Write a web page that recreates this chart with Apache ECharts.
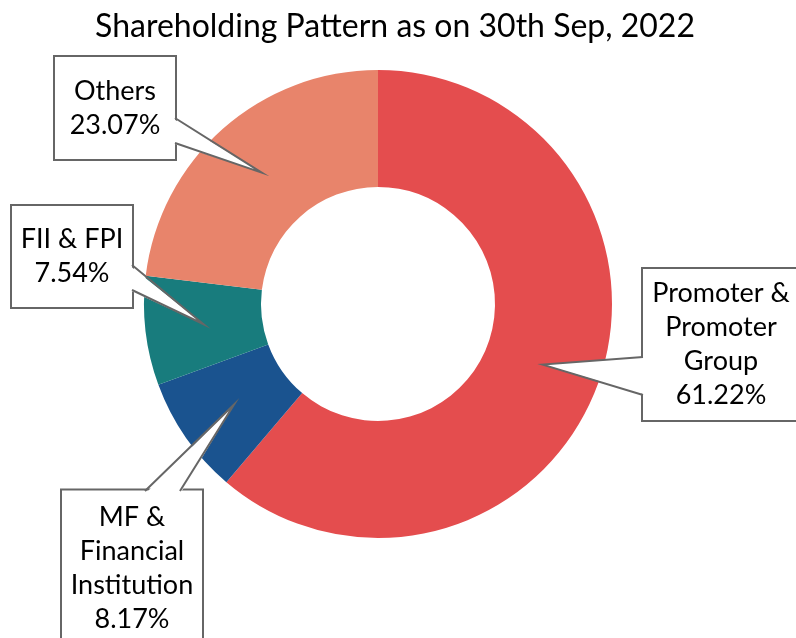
<!DOCTYPE html>
<html>
<head>
<meta charset="utf-8">
<script src="https://cdn.jsdelivr.net/npm/echarts@6/dist/echarts.min.js"></script>
<style>
  html, body { margin: 0; padding: 0; background: #fff; }
  #main { width: 796px; height: 638px; }
</style>
</head>
<body>
<div id="main"></div>
<script>
// data
const categories = ['Promoter &\nPromoter\nGroup', 'MF &\nFinancial\nInstitution', 'FII & FPI', 'Others'];
const shares = [61.22, 8.17, 7.54, 23.07];
const colors = ['#E44D4E', '#1A538F', '#187C7D', '#E8846B'];

// donut geometry
const center = [378, 304];
const radius = [117, 234];

// callout boxes: box centre, content width, vertical padding, base of the pointer, side facing the slice
const callouts = [
  { box: [721, 344.5], width: 156, pad: 7.5, base: [[643, 357], [643, 395]], side: 'left' },
  { box: [132, 568], width: 140, pad: 9.5, base: [[145, 491], [180, 491]], side: 'top' },
  { box: [72, 256.5], width: 120, pad: 16.5, base: [[132, 265], [132, 290]], side: 'right' },
  { box: [115, 108], width: 120, pad: 17, base: [[175, 118], [175, 143]], side: 'right' }
];

const total = shares.reduce((a, b) => a + b, 0);
const midR = (radius[0] + radius[1]) / 2;

// pointer tips sit at the middle of each slice
let cum = 0;
const wedges = [];
shares.forEach(function (v, i) {
  const frac = (cum + v / 2) / total;
  cum += v;
  const ang = Math.PI / 2 - frac * 2 * Math.PI;
  const tip = [center[0] + midR * Math.cos(ang), center[1] - midR * Math.sin(ang)];
  const c = callouts[i];
  const inward = c.side === 'left' ? [3, 0] : c.side === 'right' ? [-3, 0] : [0, 3];
  const a = c.base[0], b = c.base[1];
  wedges.push({
    type: 'polygon', z: 100, silent: true,
    shape: { points: [[a[0] + inward[0], a[1] + inward[1]], tip, [b[0] + inward[0], b[1] + inward[1]]] },
    style: { fill: '#fff', stroke: null }
  });
  wedges.push({
    type: 'polyline', z: 101, silent: true,
    shape: { points: [a, tip, b] },
    style: { stroke: '#666', lineWidth: 2, fill: null }
  });
});

const chart = echarts.init(document.getElementById('main'));
chart.setOption({
  animation: false,
  title: {
    text: 'Shareholding Pattern as on 30th Sep, 2022',
    left: 390,
    textAlign: 'center',
    top: 6,
    textStyle: { fontFamily: 'Lato', fontWeight: 'normal', fontSize: 32, color: '#000' }
  },
  graphic: wedges,
  series: [
    {
      type: 'pie',
      center: center,
      radius: radius,
      startAngle: 90,
      clockwise: true,
      avoidLabelOverlap: false,
      data: categories.map(function (name, i) {
        return {
          name: name,
          value: shares[i],
          itemStyle: { color: colors[i] },
          label: { width: callouts[i].width, padding: [callouts[i].pad, 0] }
        };
      }),
      label: {
        show: true,
        position: 'inside',
        formatter: '{b}\n{c}%',
        fontFamily: 'Lato',
        fontSize: 27,
        lineHeight: 34,
        color: '#000',
        align: 'center',
        backgroundColor: '#fff',
        borderColor: '#666',
        borderWidth: 2
      },
      labelLine: { show: false },
      labelLayout: function (params) {
        const c = callouts[params.dataIndex];
        return { x: c.box[0], y: c.box[1], align: 'center', verticalAlign: 'middle' };
      }
    }
  ]
});
</script>
</body>
</html>
